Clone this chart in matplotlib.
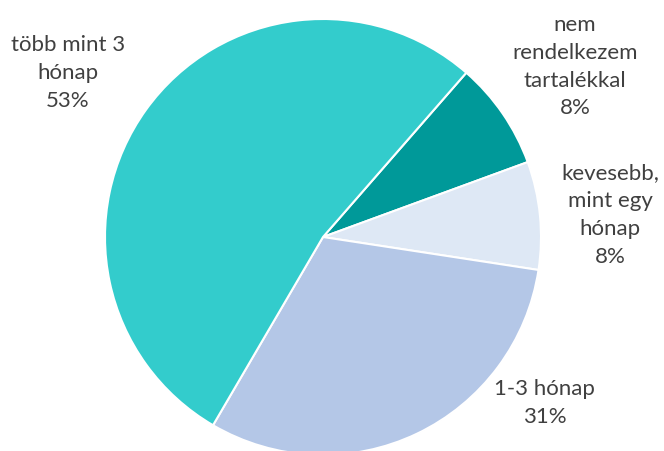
import matplotlib.pyplot as plt

labels = ["nem\nrendelkezem\ntartalékkal", "kevesebb,\nmint egy\nhónap", "1-3 hónap", "több mint 3\nhónap"]
values = [8, 8, 31, 53]
colors = ["#009999", "#DEE8F5", "#B4C7E7", "#33CCCC"]
# label centres, in pie radius units
label_pos = [(1.156, 0.785), (1.317, 0.105), (1.018, -0.757), (-1.17, 0.757)]

fig = plt.figure(figsize=(6.64, 4.52), dpi=100)
ax = fig.add_axes([0, 0, 1, 1])
wedges, _ = ax.pie(values, colors=colors, startangle=48.9, counterclock=False,
                   radius=1, wedgeprops=dict(edgecolor="white", linewidth=1.5))

total = sum(values)
for lab, v, (x, y) in zip(labels, values, label_pos):
    ax.text(x, y, f"{lab}\n{round(v / total * 100)}%", ha="center", va="center",
            fontsize=16, family="Lato", color="#404040", linespacing=1.48)

r = 218
ax.set_xlim(-323 / r, (664 - 323) / r)
ax.set_ylim(-(452 - 238) / r, 238 / r)
ax.set_aspect("equal")
ax.axis("off")
fig.savefig("out.png", dpi=100)
